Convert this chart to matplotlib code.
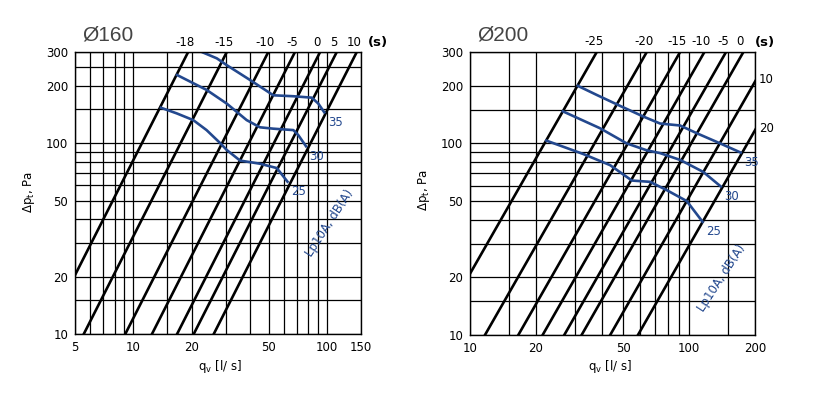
import numpy as np
import matplotlib.pyplot as plt

BLUE = '#23488e'

# ---- left chart, diameter 160 ----
l_xgrid = [5, 6, 7, 8, 9, 10, 15, 20, 30, 40, 50, 60, 70, 80, 90, 100, 150]
l_xlabels = [5, 10, 20, 50, 100, 150]
l_ygrid = [10, 15, 20, 30, 40, 50, 60, 70, 80, 90, 100, 150, 200, 250, 300]
# damper lines: flow (l/s) where the line reaches 300 Pa
l_q300 = [19.2, 30.4, 49.8, 68.4, 92.2, 112.4, 142.6]
l_names = ['-18', '-15', '-10', '-5', '0', '5', '10']
# sound level curves
l_q25 = [13.7, 16.8, 20.4, 23.9, 28.1, 30.4, 35.6, 45.1, 55.1, 63.2]
l_p25 = [154, 143, 132, 117, 100, 92, 81, 78, 74, 62]
l_q30 = [16.6, 20.4, 23.9, 30.4, 38.5, 45.1, 52.9, 67.1, 71.2, 78.7]
l_p30 = [229, 206, 190, 161, 132, 121, 119, 117, 110, 95]
l_q35 = [22.6, 27.0, 30.4, 40.1, 52.9, 67.1, 83.5, 90.3, 97.8]
l_p35 = [300, 278, 256, 214, 178, 176, 173, 161, 143]

# ---- right chart, diameter 200 ----
r_xgrid = [10, 15, 20, 30, 40, 50, 60, 70, 80, 90, 100, 150, 200]
r_xlabels = [10, 20, 50, 100, 200]
r_ygrid = [10, 15, 20, 30, 40, 50, 60, 70, 80, 90, 100, 150, 200, 300]
r_q300 = [37.9, 64.1, 91.0, 117.5, 147.5, 177.0, 239.0, 320.0]
r_names = ['-25', '-20', '-15', '-10', '-5', '0', '10', '20']
r_q25 = [22.0, 32.9, 43.6, 54.8, 66.4, 79.1, 97.6, 116.2]
r_p25 = [104, 88, 77, 64, 63, 57, 50, 38.5]
r_q30 = [26.2, 39.2, 51.9, 64.1, 73.7, 91.0, 116.0, 141.0]
r_p30 = [148, 120, 100, 92, 89, 82, 71, 59]
r_q35 = [30.7, 37.9, 48.4, 61.9, 73.7, 91.0, 108.4, 138.6, 174.1]
r_p35 = [201, 179, 157, 138, 127, 124, 113, 100, 89]

ylabels = [10, 20, 50, 100, 200, 300]

fig = plt.figure(figsize=(8.25, 3.95), dpi=100)
ax1 = fig.add_axes([0.0909, 0.1544, 0.3467, 0.7139])
ax2 = fig.add_axes([0.5697, 0.1519, 0.3455, 0.7165])


def setup(ax, xgrid, xlabels, ygrid, title):
    ax.set_xscale('log')
    ax.set_yscale('log')
    ax.set_xlim(xgrid[0], xgrid[-1])
    ax.set_ylim(10, 300)
    ax.set_xticks(xgrid)
    ax.set_xticklabels([str(v) if v in xlabels else '' for v in xgrid])
    ax.set_xticks([], minor=True)
    ax.set_yticks(ygrid)
    ax.set_yticklabels([str(v) if v in ylabels else '' for v in ygrid])
    ax.set_yticks([], minor=True)
    ax.tick_params(length=0, labelsize=8.5, pad=5)
    ax.grid(True, color='black', lw=0.9)
    for s in ax.spines.values():
        s.set_linewidth(1.0)
    ax.set_xlabel(r'q$_\mathregular{v}$ [l/ s]', fontsize=8.5)
    ax.set_ylabel(r'Δp$_\mathregular{t}$, Pa', fontsize=8.5)
    ax.text(0.025, 1.06, title, transform=ax.transAxes, fontsize=15,
            family='Liberation Sans', color='#444444', va='center')


def damper_lines(ax, q300, names, xmax):
    q = np.logspace(0, 3, 300)
    for qt, name in zip(q300, names):
        ax.plot(q, 300 * (q / qt) ** 2, color='black', lw=1.9)
        if qt <= xmax:
            ax.annotate(name, (qt, 300), xytext=(-3, 10), textcoords='offset pixels',
                        ha='center', va='center', fontsize=8.5, annotation_clip=False)
        else:
            ax.annotate(name, (xmax, 300 * (xmax / qt) ** 2), xytext=(4, 2),
                        textcoords='offset pixels', ha='left', va='center',
                        fontsize=8.5, annotation_clip=False)


def sound_curves(ax, curves):
    for name, qs, ps in curves:
        ax.plot(qs, ps, color=BLUE, lw=1.9, solid_capstyle='butt')
        ax.annotate(name, (qs[-1], ps[-1]), xytext=(10, -9), textcoords='offset pixels',
                    ha='center', va='center', fontsize=8.5, color=BLUE)


setup(ax1, l_xgrid, l_xlabels, l_ygrid, 'Ø160')
damper_lines(ax1, l_q300, l_names, 150)
sound_curves(ax1, [('25', l_q25, l_p25), ('30', l_q30, l_p30), ('35', l_q35, l_p35)])
ax1.text(1.06, 1.035, '(s)', transform=ax1.transAxes, fontsize=9.5,
         fontweight='bold', ha='center', va='center')
ax1.text(0.89, 0.394, 'Lp10A, dB(A)', transform=ax1.transAxes, fontsize=8.5,
         color=BLUE, rotation=57, ha='center', va='center')
ax1.yaxis.set_label_coords(-0.133, 0.504)
ax1.xaxis.set_label_coords(0.507, -0.085)

setup(ax2, r_xgrid, r_xlabels, r_ygrid, 'Ø200')
damper_lines(ax2, r_q300, r_names, 200)
sound_curves(ax2, [('25', r_q25, r_p25), ('30', r_q30, r_p30), ('35', r_q35, r_p35)])
ax2.text(1.035, 1.035, '(s)', transform=ax2.transAxes, fontsize=9.5,
         fontweight='bold', ha='center', va='center')
ax2.text(0.884, 0.201, 'Lp10A, dB(A)', transform=ax2.transAxes, fontsize=8.5,
         color=BLUE, rotation=57, ha='center', va='center')
ax2.yaxis.set_label_coords(-0.133, 0.512)
ax2.xaxis.set_label_coords(0.491, -0.08)

fig.savefig('out.png', dpi=100)
